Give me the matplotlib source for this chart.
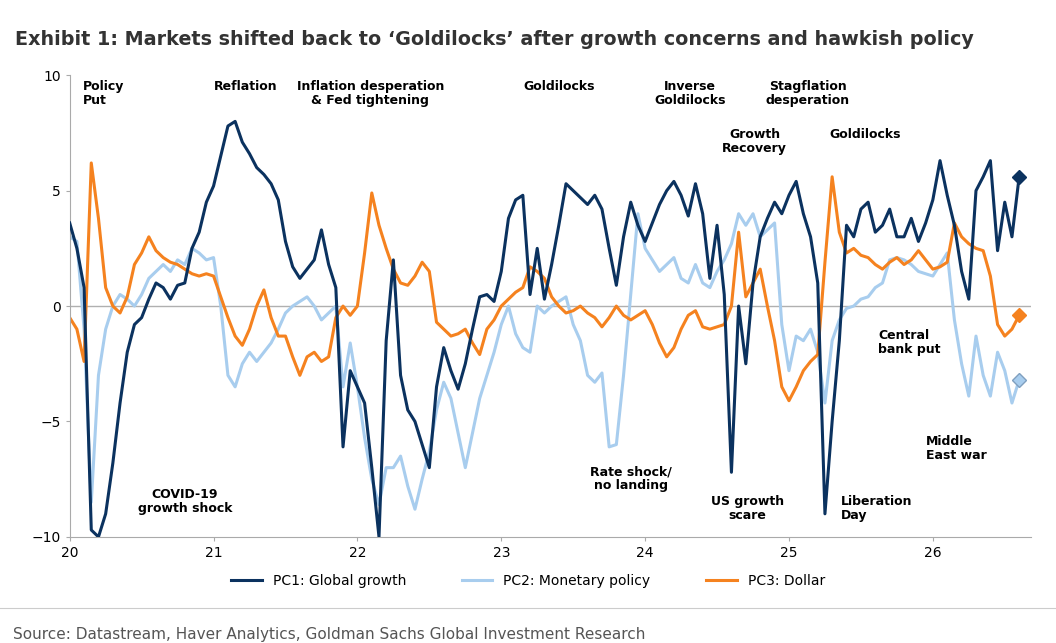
import matplotlib.pyplot as plt
import numpy as np

# values read every 0.05 yr from 2020.00 to 2026.60
pc1 = [3.6, 2.5, 0.8, -9.7, -10, -9, -6.8, -4.2, -2.0, -0.8,
       -0.5, 0.3, 1.0, 0.8, 0.3, 0.9, 1.0, 2.5, 3.2, 4.5,
       5.2, 6.5, 7.8, 8.0, 7.1, 6.6, 6.0, 5.7, 5.3, 4.6,
       2.8, 1.7, 1.2, 1.6, 2.0, 3.3, 1.8, 0.8, -6.1, -2.8,
       -3.5, -4.2, -7, -10, -1.5, 2.0, -3.0, -4.5, -5.0, -6.0,
       -7.0, -3.5, -1.8, -2.8, -3.6, -2.5, -1.0, 0.4, 0.5, 0.2,
       1.5, 3.8, 4.6, 4.8, 0.5, 2.5, 0.3, 1.8, 3.5, 5.3,
       5.0, 4.7, 4.4, 4.8, 4.2, 2.5, 0.9, 3.0, 4.5, 3.5,
       2.8, 3.6, 4.4, 5.0, 5.4, 4.8, 3.9, 5.3, 4.0, 1.2,
       3.5, 0.5, -7.2, 0.0, -2.5, 1.0, 3.0, 3.8, 4.5, 4.0,
       4.8, 5.4, 4.0, 3.0, 1.0, -9.0, -5.0, -1.5, 3.5, 3.0,
       4.2, 4.5, 3.2, 3.5, 4.2, 3.0, 3.0, 3.8, 2.8, 3.6,
       4.6, 6.3, 4.8, 3.5, 1.5, 0.3, 5.0, 5.6, 6.3, 2.4,
       4.5, 3.0, 5.6]
pc2 = [3.0, 2.8, -1.0, -8.5, -3.0, -1.0, 0.0, 0.5, 0.3, 0.0,
       0.5, 1.2, 1.5, 1.8, 1.5, 2.0, 1.8, 2.5, 2.3, 2.0,
       2.1, 0.0, -3.0, -3.5, -2.5, -2.0, -2.4, -2.0, -1.6, -1.0,
       -0.3, 0.0, 0.2, 0.4, 0.0, -0.6, -0.3, 0.0, -3.5, -1.6,
       -3.5, -5.7, -7.5, -8.6, -7.0, -7.0, -6.5, -7.8, -8.8, -7.5,
       -6.3, -4.5, -3.3, -4.0, -5.5, -7.0, -5.5, -4.0, -3.0, -2.0,
       -0.8, 0.0, -1.2, -1.8, -2.0, 0.0, -0.3, 0.0, 0.2, 0.4,
       -0.8, -1.5, -3.0, -3.3, -2.9, -6.1, -6.0, -3.0, 0.5, 4.0,
       2.5, 2.0, 1.5, 1.8, 2.1, 1.2, 1.0, 1.8, 1.0, 0.8,
       1.5, 2.0, 2.7, 4.0, 3.5, 4.0, 3.0, 3.3, 3.6, -0.8,
       -2.8, -1.3, -1.5, -1.0, -2.0, -4.2, -1.5, -0.6, -0.1, 0.0,
       0.3, 0.4, 0.8, 1.0, 2.0, 2.1, 2.0, 1.8, 1.5, 1.4,
       1.3, 1.8, 2.3, -0.6, -2.5, -3.9, -1.3, -3.0, -3.9, -2.0,
       -2.8, -4.2, -3.2]
pc3 = [-0.5, -1.0, -2.4, 6.2, 3.8, 0.8, 0.0, -0.3, 0.4, 1.8,
       2.3, 3.0, 2.4, 2.1, 1.9, 1.8, 1.6, 1.4, 1.3, 1.4,
       1.3, 0.4, -0.5, -1.3, -1.7, -1.0, 0.0, 0.7, -0.5, -1.3,
       -1.3, -2.2, -3.0, -2.2, -2.0, -2.4, -2.2, -0.5, 0.0, -0.4,
       0.0, 2.3, 4.9, 3.5, 2.5, 1.6, 1.0, 0.9, 1.3, 1.9,
       1.5, -0.7, -1.0, -1.3, -1.2, -1.0, -1.6, -2.1, -1.0, -0.6,
       0.0, 0.3, 0.6, 0.8, 1.7, 1.5, 1.2, 0.4, 0.0, -0.3,
       -0.2, 0.0, -0.3, -0.5, -0.9, -0.5, 0.0, -0.4, -0.6, -0.4,
       -0.2, -0.8, -1.6, -2.2, -1.8, -1.0, -0.4, -0.2, -0.9, -1.0,
       -0.9, -0.8, 0.0, 3.2, 0.4, 1.0, 1.6, 0.0, -1.5, -3.5,
       -4.1, -3.5, -2.8, -2.4, -2.1, 1.9, 5.6, 3.2, 2.3, 2.5,
       2.2, 2.1, 1.8, 1.6, 1.9, 2.1, 1.8, 2.0, 2.4, 2.0,
       1.6, 1.7, 1.9, 3.6, 3.0, 2.7, 2.5, 2.4, 1.3, -0.8,
       -1.3, -1.0, -0.4]

names = ['PC1: Global growth', 'PC2: Monetary policy', 'PC3: Dollar']
colors = ['#0b325f', '#a8cdee', '#f5821f']

labels = [
    ('Policy\nPut', 20.09, 9.8, 'left'),
    ('Reflation', 21.22, 9.8, 'center'),
    ('Inflation desperation\n& Fed tightening', 22.09, 9.8, 'center'),
    ('Goldilocks', 23.40, 9.8, 'center'),
    ('Inverse\nGoldilocks', 24.31, 9.8, 'center'),
    ('Stagflation\ndesperation', 25.13, 9.8, 'center'),
    ('Growth\nRecovery', 24.76, 7.7, 'center'),
    ('Goldilocks', 25.53, 7.7, 'center'),
    ('COVID-19\ngrowth shock', 20.80, -7.9, 'center'),
    ('Rate shock/\nno landing', 23.90, -6.9, 'center'),
    ('US growth\nscare', 24.71, -8.2, 'center'),
    ('Liberation\nDay', 25.36, -8.2, 'left'),
    ('Central\nbank put', 25.62, -1.0, 'left'),
    ('Middle\nEast war', 25.95, -5.6, 'left'),
]

fig = plt.figure(figsize=(10.56, 6.43), dpi=100)
ax = fig.add_axes([0.066, 0.165, 0.91, 0.718])

# draw light blue first, then orange, then navy on top
for s, c, n, z in [(pc2, colors[1], names[1], 1), (pc3, colors[2], names[2], 2), (pc1, colors[0], names[0], 3)]:
    x = 20 + 0.05 * np.arange(len(s))
    ax.plot(x, s, color=c, lw=2.2, zorder=z, label=n)
    ax.plot(x[-1], s[-1], marker='D', ms=7, color=c, mec='#7f9fbf' if c == colors[1] else c, zorder=z)

ax.axhline(0, color='#b0b0b0', lw=1, zorder=0)
ax.set_xlim(20, 26.68)
ax.set_ylim(-10, 10)
ax.set_xticks(range(20, 27))
ax.set_xticklabels([str(i) for i in range(20, 27)])
ax.set_yticks([-10, -5, 0, 5, 10])
for sp in ['top', 'right']:
    ax.spines[sp].set_visible(False)
for sp in ['left', 'bottom']:
    ax.spines[sp].set_color('#aaaaaa')
ax.tick_params(colors='#aaaaaa', labelcolor='black', labelsize=10, length=3)

for t, x, y, ha in labels:
    ax.text(x, y, t, ha=ha, va='top', fontsize=9, fontweight='bold', linespacing=1.1)

h, l = ax.get_legend_handles_labels()
order = [l.index(n) for n in names]
fig.legend([h[i] for i in order], names, loc='center', bbox_to_anchor=(0.5, 0.097), ncol=3,
           frameon=False, fontsize=10, handlelength=2.2, columnspacing=4)

fig.text(0.014, 0.93, "Exhibit 1: Markets shifted back to \u2018Goldilocks\u2019 after growth concerns and hawkish policy",
         fontsize=13.8, fontweight='bold', color='#333333')
fig.add_artist(plt.Line2D([0.0, 1.0], [0.055, 0.055], color='#cccccc', lw=0.8))
fig.text(0.012, 0.006, 'Source: Datastream, Haver Analytics, Goldman Sachs Global Investment Research',
         fontsize=11, color='#555555')

fig.savefig('out.png', dpi=100)
